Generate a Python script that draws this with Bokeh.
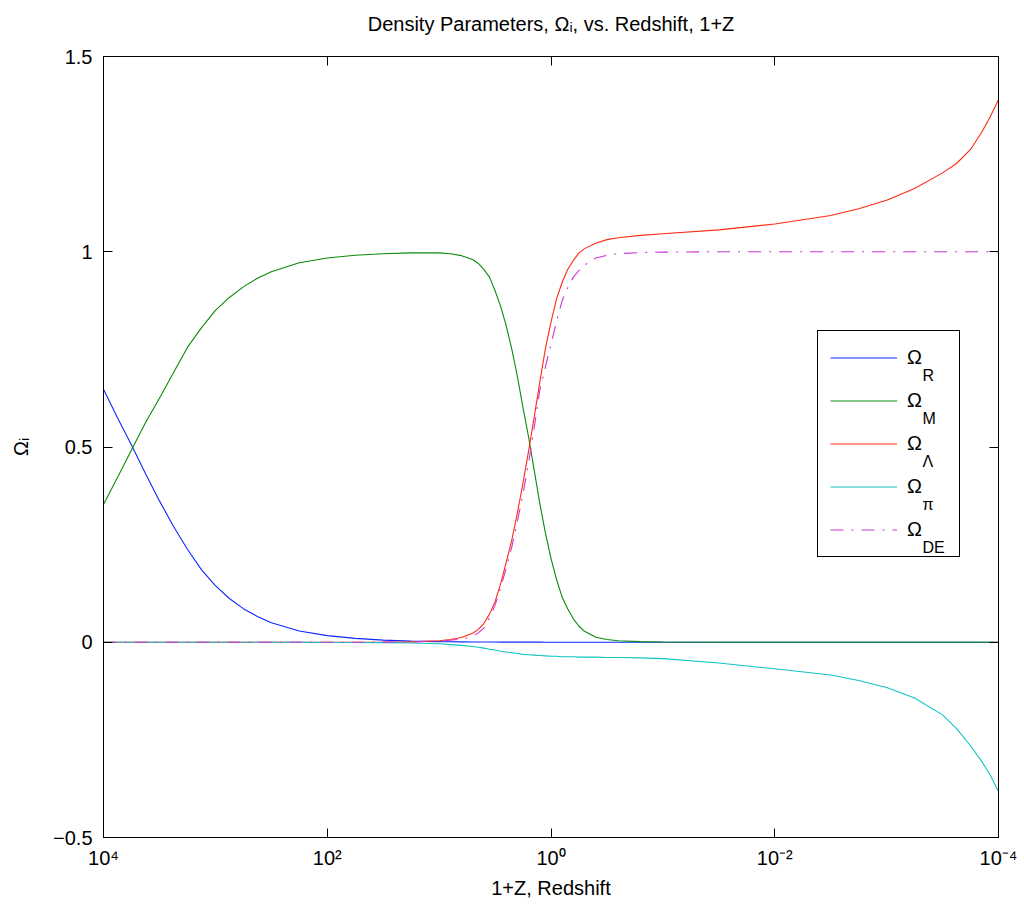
import numpy as np
from bokeh.plotting import figure
from bokeh.models import (Range1d, FixedTicker, LogAxis, LinearAxis, Legend,
                          LegendItem, Label, CustomJSTickFormatter, ColumnDataSource)
from bokeh.core.properties import value
from bokeh.embed import file_html
from bokeh.resources import INLINE

# ---------------- data ----------------
# positions along the x axis, as log10(1+Z)
log_1pz = [4.0, 3.875, 3.75, 3.625, 3.5, 3.375, 3.25, 3.125, 3.0, 2.875,
           2.75, 2.625, 2.5, 2.25, 2.0, 1.75, 1.5, 1.25, 1.0, 0.9,
           0.8, 0.7, 0.65, 0.6, 0.55, 0.5, 0.45, 0.4, 0.35, 0.3,
           0.25, 0.2, 0.15, 0.1, 0.05, 0.0, -0.05, -0.1, -0.15, -0.2,
           -0.25, -0.3, -0.4, -0.5, -0.6, -0.8, -1.0, -1.5, -2.0, -2.5,
           -2.75, -3.0, -3.25, -3.5, -3.625, -3.75, -3.85, -3.925, -4.0]

omega_R = [0.648, 0.575, 0.505, 0.432, 0.362, 0.297, 0.238, 0.186, 0.145, 0.112,
           0.086, 0.066, 0.05, 0.029, 0.017, 0.01, 0.0055, 0.003, 0.0015, 0.0012,
           0.001, 0.0008, 0.0007, 0.0006, 0.0005, 0.0005, 0.0004, 0.0004, 0.0003, 0.0003,
           0.0002, 0.0002, 0.0002, 0.0002, 0.0001, 0.0001, 0.0, 0.0, 0.0, 0.0,
           0.0, 0.0, 0.0, 0.0, 0.0, 0.0, 0.0, 0.0, 0.0, 0.0,
           0.0, 0.0, 0.0, 0.0, 0.0, 0.0, 0.0, 0.0, 0.0]

omega_M = [0.353, 0.422, 0.492, 0.562, 0.625, 0.69, 0.755, 0.805, 0.85, 0.883,
           0.91, 0.932, 0.949, 0.972, 0.984, 0.991, 0.995, 0.997, 0.997, 0.995,
           0.99, 0.98, 0.97, 0.955, 0.935, 0.9, 0.86, 0.81, 0.75, 0.68,
           0.6, 0.525, 0.44, 0.355, 0.28, 0.215, 0.16, 0.115, 0.085, 0.06,
           0.041, 0.028, 0.013, 0.007, 0.004, 0.0015, 0.0006, 0.0001, 0.0, 0.0,
           0.0, 0.0, 0.0, 0.0, 0.0, 0.0, 0.0, 0.0, 0.0]

omega_L = [0.0, 0.0, 0.0, 0.0, 0.0, 0.0, 0.0, 0.0, 0.0, 0.0,
           0.0, 0.0, 0.0, 0.0, 0.0, 0.0, 0.0003, 0.001, 0.004, 0.007,
           0.012, 0.023, 0.033, 0.048, 0.072, 0.104, 0.15, 0.205, 0.262, 0.332,
           0.408, 0.49, 0.577, 0.666, 0.752, 0.82, 0.88, 0.922, 0.955, 0.978,
           0.997, 1.008, 1.022, 1.031, 1.036, 1.042, 1.046, 1.056, 1.071, 1.093,
           1.11, 1.132, 1.162, 1.202, 1.226, 1.262, 1.306, 1.345, 1.389]

omega_pi = [0.0, 0.0, 0.0, 0.0, 0.0, 0.0, 0.0, 0.0, 0.0, 0.0,
            0.0, 0.0, 0.0, -0.0003, -0.0005, -0.0008, -0.001, -0.002, -0.004, -0.006,
            -0.008, -0.011, -0.013, -0.015, -0.018, -0.02, -0.023, -0.025, -0.027, -0.029,
            -0.031, -0.032, -0.033, -0.034, -0.035, -0.036, -0.036, -0.037, -0.037, -0.037,
            -0.038, -0.038, -0.038, -0.039, -0.039, -0.040, -0.042, -0.053, -0.068, -0.084,
            -0.098, -0.116, -0.143, -0.186, -0.221, -0.265, -0.305, -0.34, -0.382]

omega_DE = [0.0, 0.0, 0.0, 0.0, 0.0, 0.0, 0.0, 0.0, 0.0, 0.0,
            0.0, 0.0, 0.0, 0.0, 0.0, 0.0, 0.0002, 0.0008, 0.003, 0.005,
            0.008, 0.015, 0.024, 0.036, 0.062, 0.095, 0.14, 0.19, 0.245, 0.31,
            0.38, 0.46, 0.55, 0.645, 0.705, 0.763, 0.822, 0.875, 0.908, 0.935,
            0.952, 0.966, 0.984, 0.991, 0.995, 0.998, 0.999, 1.0, 1.0, 1.0,
            1.0, 1.0, 1.0, 1.0, 1.0, 1.0, 1.0, 1.0, 1.0]

x_ticks = [1e4, 1e2, 1e0, 1e-2, 1e-4]
x_tick_labels = ["10\u2074", "10\u00b2", "10\u2070", "10\u207b\u00b2", "10\u207b\u2074"]
y_ticks = [-0.5, 0, 0.5, 1, 1.5]
y_tick_labels = ["\u22120.5", "0", "0.5", "1", "1.5"]

title_text = "Density Parameters, \u03a9\u1d62, vs. Redshift, 1+Z"
x_label = "1+Z, Redshift"
y_label = "\u03a9\u1d62"
series_subscripts = ["R", "M", "\u039b", "\u03c0", "DE"]
series_colors = ["#0a28ff", "#0a8a0a", "#ff2a10", "#10c4c4", "#cc33d6"]

FONT = "Liberation Sans"

# ---------------- figure ----------------
src = ColumnDataSource(dict(
    x=np.power(10.0, np.array(log_1pz)),
    R=omega_R, M=omega_M, L=omega_L, PI=omega_pi, DE=omega_DE))

p = figure(title=None, frame_width=895, frame_height=781,
           min_border_left=103, min_border_top=56, min_border_right=20,
           min_border_bottom=70,
           x_axis_type="log",
           x_range=Range1d(1e4, 1e-4), y_range=Range1d(-0.5, 1.5),
           output_backend="svg", toolbar_location=None,
           background_fill_color="white", border_fill_color="white")
p.grid.visible = False
p.outline_line_color = "black"
p.outline_line_width = 1


def style_axis(ax):
    ax.axis_line_color = "black"
    ax.axis_line_width = 1
    ax.major_tick_in = 9
    ax.major_tick_out = 0
    ax.minor_tick_in = 0
    ax.minor_tick_out = 0
    ax.major_tick_line_color = "black"
    ax.major_label_text_font = FONT
    ax.major_label_text_font_size = "20px"
    ax.major_label_text_color = "black"
    ax.axis_label_text_font = FONT
    ax.axis_label_text_font_size = "20px"
    ax.axis_label_text_font_style = "normal"
    ax.axis_label_text_color = "black"


xa = p.xaxis[0]
xa.ticker = FixedTicker(ticks=x_ticks, minor_ticks=[])
xa.major_label_overrides = dict(zip(x_ticks, x_tick_labels))
xa.axis_label = x_label
xa.major_label_standoff = 9
xa.axis_label_standoff = 5
style_axis(xa)

ya = p.yaxis[0]
ya.ticker = FixedTicker(ticks=y_ticks, minor_ticks=[])
ya.major_label_overrides = dict(zip(y_ticks, y_tick_labels))
ya.major_label_standoff = 11
ya.axis_label = y_label
ya.axis_label_standoff = 18
style_axis(ya)

# top axis: ticks only, and it carries the chart title as its label
top = LogAxis(ticker=FixedTicker(ticks=x_ticks, minor_ticks=[]),
              formatter=CustomJSTickFormatter(code="return ''"),
              major_label_standoff=0, axis_label=title_text,
              axis_label_standoff=22)
style_axis(top)
p.add_layout(top, "above")
right = LinearAxis(ticker=FixedTicker(ticks=y_ticks, minor_ticks=[]),
                   formatter=CustomJSTickFormatter(code="return ''"),
                   major_label_standoff=0)
style_axis(right)
p.add_layout(right, "right")

# ---------------- lines ----------------
cols = ["R", "M", "L", "PI", "DE"]
renderers = []
for col, color in zip(cols, series_colors):
    kw = dict(line_color=color, line_width=1.1)
    if col == "DE":
        kw["line_dash"] = "13 8 2 8"
    renderers.append(p.line("x", col, source=src, **kw))

# legend subscripts (drawn first, the legend box is transparent over them)
for i, sub in enumerate(series_subscripts):
    p.add_layout(Label(x=819, y=462 - 43 * i, x_units="screen", y_units="screen",
                       text=sub, text_font=FONT, text_font_size="16px",
                       text_color="black", text_baseline="alphabetic",
                       text_align="left"))

legend = Legend(items=[LegendItem(label=value("\u03a9"), renderers=[r]) for r in renderers],
                location=(714, 280), orientation="vertical",
                padding=12, spacing=14, margin=0,
                glyph_width=67, glyph_height=29, label_height=29, label_width=40,
                label_standoff=10, label_text_font=FONT, label_text_font_size="20px",
                label_text_color="black",
                border_line_color="black", border_line_width=1.8, border_line_alpha=1.0,
                background_fill_alpha=0.0)
p.add_layout(legend)

with open("out.html", "w", encoding="utf-8") as f:
    f.write(file_html(p, INLINE))
